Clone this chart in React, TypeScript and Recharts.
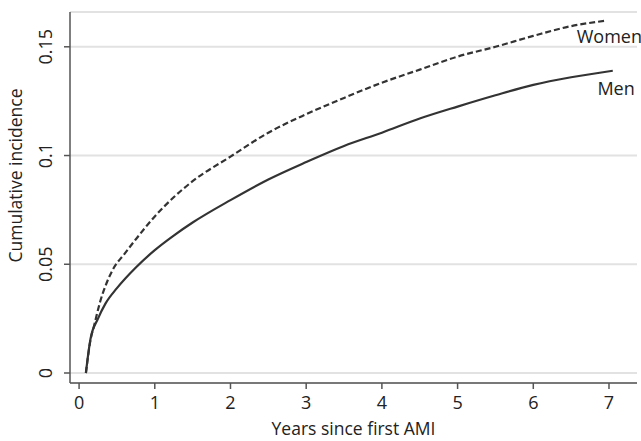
import { LineChart, Line, XAxis, YAxis, CartesianGrid } from "recharts";

// Cumulative incidence after first AMI
const womenYears = [0.09, 0.15, 0.2, 0.28, 0.365, 0.45, 0.6, 0.75, 1, 1.25, 1.5, 2, 2.5, 3, 3.5, 4, 4.5, 5, 5.5, 6, 6.5, 6.96];
const womenRisk = [0, 0.015, 0.022, 0.033, 0.0415, 0.0478, 0.0548, 0.0615, 0.072, 0.0808, 0.0882, 0.0995, 0.1105, 0.119, 0.1265, 0.1335, 0.1395, 0.1455, 0.150, 0.155, 0.1595, 0.162];

const menYears = [0.09, 0.15, 0.25, 0.35, 0.5, 0.75, 1, 1.25, 1.5, 2, 2.5, 3, 3.5, 4, 4.5, 5, 5.5, 6, 6.5, 7.05];
const menRisk = [0, 0.0155, 0.025, 0.032, 0.039, 0.0485, 0.0565, 0.0632, 0.0692, 0.0795, 0.089, 0.097, 0.1044, 0.1105, 0.117, 0.1225, 0.1277, 0.1325, 0.136, 0.139];

const xTicks = [0, 1, 2, 3, 4, 5, 6, 7];
const yTicks = [0, 0.05, 0.1, 0.15];

const women = womenYears.map((t, i) => ({ t, v: womenRisk[i] }));
const men = menYears.map((t, i) => ({ t, v: menRisk[i] }));

const font = "'Open Sans', sans-serif";
const ink = "#333";
const axisColor = "#555";
const textColor = "#222";

const YTick = (props: any) => {
  const { x, y, payload } = props;
  return (
    <text
      x={0}
      y={0}
      transform={`translate(${x - 10},${y}) rotate(-90)`}
      textAnchor="middle"
      fontSize={18}
      fontFamily={font}
      fill={textColor}
    >
      {String(payload.value)}
    </text>
  );
};

const endLabel = (text: string, last: number, dx: number, dy: number) => (props: any) => {
  if (props.index !== last) return null;
  return (
    <text
      x={props.x + dx}
      y={props.y + dy}
      textAnchor="end"
      fontSize={18}
      fontFamily={font}
      fill={textColor}
    >
      {text}
    </text>
  );
};

export default function App() {
  return (
    <div style={{ position: "absolute", left: 0, top: 0, background: "#fff" }}>
      <LineChart width={641} height={441} margin={{ top: 12, right: 4, left: 0, bottom: 0 }}>
        <CartesianGrid vertical={false} stroke="#e2e2e2" strokeWidth={2} />
        <XAxis
          type="number"
          dataKey="t"
          domain={[-0.12, 7.37]}
          ticks={xTicks}
          allowDataOverflow
          height={58}
          stroke={axisColor}
          strokeWidth={1.5}
          tickSize={6}
          tick={{ fontSize: 18, fontFamily: font, fill: textColor, dy: 5 }}
          label={{
            value: "Years since first AMI",
            position: "insideBottom",
            offset: 6,
            fontSize: 17.5,
            fontFamily: font,
            fill: textColor,
          }}
        />
        <YAxis
          type="number"
          dataKey="v"
          domain={[-0.0046, 0.166]}
          ticks={yTicks}
          allowDataOverflow
          width={70}
          stroke={axisColor}
          strokeWidth={1.5}
          tickSize={6}
          tick={<YTick />}
          label={(p: any) => {
            const vb = p.viewBox;
            const cx = 22;
            const cy = vb.y + vb.height / 2 - 22;
            return (
              <text
                x={0}
                y={0}
                transform={`translate(${cx},${cy}) rotate(-90)`}
                textAnchor="middle"
                fontSize={17.5}
                fontFamily={font}
                fill={textColor}
              >
                Cumulative incidence
              </text>
            );
          }}
        />
        <Line
          data={women}
          dataKey="v"
          type="monotone"
          stroke={ink}
          strokeWidth={2.2}
          strokeDasharray="6 3"
          dot={false}
          isAnimationActive={false}
          label={endLabel("Women", women.length - 1, 36, 22)}
        />
        <Line
          data={men}
          dataKey="v"
          type="monotone"
          stroke={ink}
          strokeWidth={2.2}
          dot={false}
          isAnimationActive={false}
          label={endLabel("Men", men.length - 1, 22, 24)}
        />
      </LineChart>
    </div>
  );
}
